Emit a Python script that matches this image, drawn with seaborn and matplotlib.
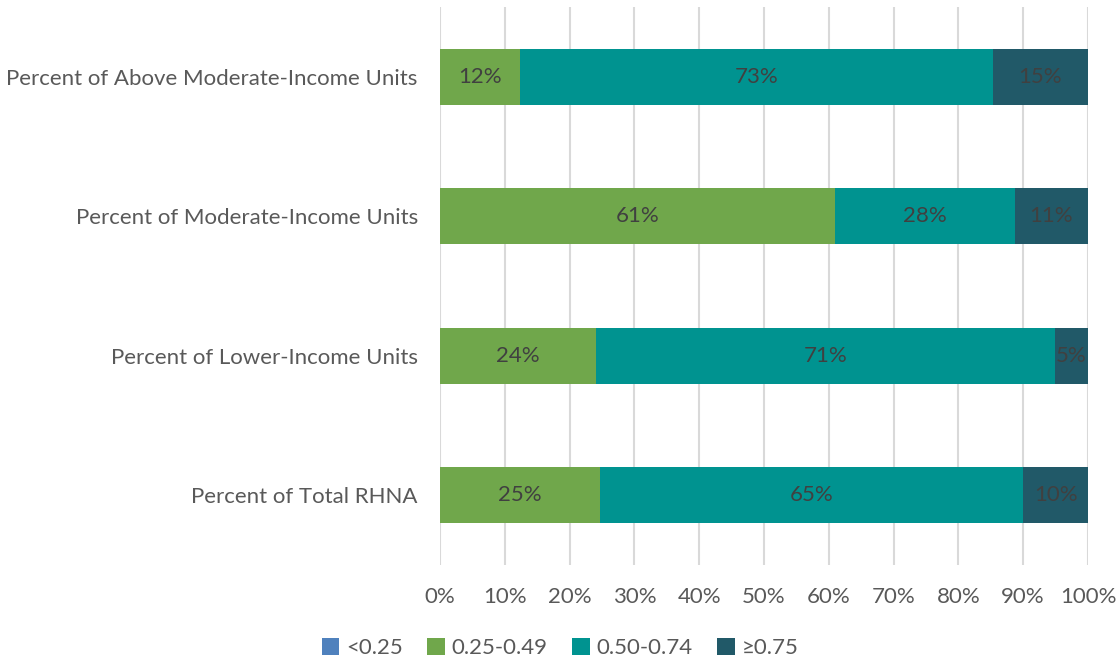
import pandas as pd
import seaborn as sns
import matplotlib.pyplot as plt
import numpy as np
from matplotlib.patches import Patch

# Data
categories = ['Percent of Above Moderate-Income Units', 'Percent of Moderate-Income Units',
              'Percent of Lower-Income Units', 'Percent of Total RHNA']
series = ['<0.25', '0.25-0.49', '0.50-0.74', '\u22650.75']
below_025 = [0.0, 0.0, 0.0, 0.0]
from_025 = [12.3, 61.0, 24.1, 24.7]
from_050 = [73.0, 27.7, 70.8, 65.3]
above_075 = [14.7, 11.3, 5.1, 10.0]
colors = ['#4F81BD', '#70A74B', '#009390', '#215968']

df = pd.DataFrame({'category': categories, series[0]: below_025, series[1]: from_025,
                   series[2]: from_050, series[3]: above_075})

sns.set_theme(style="white")
plt.rcParams['font.family'] = ['Lato', 'DejaVu Sans']
fs = 16

fig = plt.figure(figsize=(11.2, 6.6), dpi=100)
ax = fig.add_axes([0.3929, 0.1439, 0.5785, 0.8455])

# Stacked bars: draw cumulative totals, biggest first
cum = df[series].cumsum(axis=1)
for s, c in reversed(list(zip(series, colors))):
    sns.barplot(x=cum[s], y=df['category'], orient='h', color=c, width=0.4,
                saturation=1, linewidth=0, ax=ax, zorder=3)

# Segment labels
for i in range(len(categories)):
    left = 0
    for s in series:
        v = df.loc[i, s]
        if v > 0:
            ax.text(left + v / 2, i, f'{v:.0f}%', ha='center', va='center',
                    fontsize=fs, color='#404040', zorder=4)
        left += v

ax.set_xlim(0, 100)
ax.set_ylim(3.5, -0.5)
ax.set_xticks(np.arange(0, 101, 10))
ax.set_xticklabels([f'{t}%' for t in range(0, 101, 10)])
ax.grid(axis='x', color='#D9D9D9', linewidth=1.5, zorder=0)
ax.set_axisbelow(True)
for sp in ax.spines.values():
    sp.set_visible(False)
ax.set_xlabel('')
ax.set_ylabel('')
ax.tick_params(axis='both', length=0, labelsize=fs, labelcolor='#595959')
ax.tick_params(axis='x', pad=16)
ax.tick_params(axis='y', pad=16)

handles = [Patch(facecolor=c, edgecolor='none') for c in colors]
fig.legend(handles, series, loc='center', bbox_to_anchor=(0.5, 0.018), ncol=4,
           frameon=False, fontsize=fs, labelcolor='#595959', handlelength=0.8,
           handleheight=0.8, handletextpad=0.3, columnspacing=1.1)

fig.savefig('out.png', dpi=100)
